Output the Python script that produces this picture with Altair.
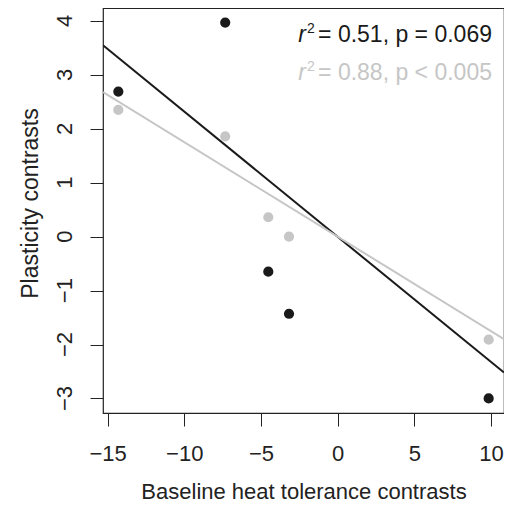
import altair as alt
import pandas as pd

# ---- data ----
x_vals = [-14.3, -7.33, -4.52, -3.17, 9.85]
y_black = [2.69, 3.97, -0.65, -1.43, -3.0]
y_grey = [2.35, 1.86, 0.36, 0.0, -1.91]

# fitted lines (endpoints at the axis limits)
line_x = [-15.3, 10.85]
black_line_y = [3.55, -2.52]
grey_line_y = [2.68, -1.90]

x_domain = [-15.3, 10.85]
y_domain = [-3.27, 4.24]
x_ticks = [-15, -10, -5, 0, 5, 10]
y_ticks = [-3, -2, -1, 0, 1, 2, 3, 4]

FONT = "Liberation Sans"
GREY = "#c6c6c6"
BLACK = "#1a1a1a"
INK = "#222222"

pts = pd.DataFrame(
    {"x": x_vals * 2, "y": y_black + y_grey,
     "group": ["black"] * 5 + ["grey"] * 5}
)
lines = pd.DataFrame(
    {"x": line_x * 2, "y": black_line_y + grey_line_y,
     "group": ["black"] * 2 + ["grey"] * 2}
)
ylabels = pd.DataFrame(
    {"y": y_ticks, "label": [str(v).replace("-", "\u2212") for v in y_ticks]}
)

xscale = alt.Scale(domain=x_domain, nice=False, zero=False)
yscale = alt.Scale(domain=y_domain, nice=False, zero=False)
color_scale = alt.Scale(domain=["black", "grey"], range=[BLACK, GREY])

xaxis = alt.Axis(
    values=x_ticks, format="d", title="Baseline heat tolerance contrasts", grid=False,
    domain=False, ticks=True, tickSize=13, tickColor=INK, tickWidth=1,
    labelFont=FONT, labelFontSize=22, labelColor=INK,
    labelBaseline="alphabetic", labelPadding=34, labelFlush=False,
    titleFont=FONT, titleFontSize=22, titleFontWeight="normal", titleColor=INK,
    titleBaseline="alphabetic", titleY=85,
)
yaxis = alt.Axis(
    values=y_ticks, title="Plasticity contrasts", grid=False,
    domain=False, ticks=True, tickSize=13, tickColor=INK, tickWidth=1,
    labels=False,
    titleFont=FONT, titleFontSize=23, titleFontWeight="normal", titleColor=INK,
    titleAngle=270, titleAlign="center", titleBaseline="alphabetic",
    titleX=-66, titleY=195,
)

line_layer = alt.Chart(lines).mark_line(strokeWidth=2, clip=True).encode(
    x=alt.X("x:Q", scale=xscale, axis=xaxis),
    y=alt.Y("y:Q", scale=yscale, axis=yaxis),
    color=alt.Color("group:N", scale=color_scale, legend=None),
    detail="group:N",
    order=alt.Order("x:Q"),
)

point_layer = alt.Chart(pts).mark_circle(size=104, opacity=1).encode(
    x=alt.X("x:Q", scale=xscale, axis=xaxis),
    y=alt.Y("y:Q", scale=yscale, axis=yaxis),
    color=alt.Color("group:N", scale=color_scale, legend=None),
)

ylabel_layer = alt.Chart(ylabels).mark_text(
    font=FONT, fontSize=22, angle=270, align="center", baseline="alphabetic",
    color=INK,
).encode(
    y=alt.Y("y:Q", scale=yscale, axis=yaxis),
    x=alt.value(-31),
    text="label:N",
)

ann = pd.DataFrame({"row": [0]})


def txt(text, x, y, color, size=23, align="left", style="normal"):
    return alt.Chart(ann).mark_text(
        text=text, font=FONT, fontSize=size, align=align, baseline="alphabetic",
        color=color, fontStyle=style,
    ).encode(x=alt.value(x), y=alt.value(y))


annotations = [
    txt("r", 203, 34, BLACK, align="right", style="italic"),
    txt("2", 204, 25, BLACK, size=14),
    txt("= 0.51, p = 0.069", 389, 34, BLACK, align="right"),
    txt("r", 203, 72, GREY, align="right", style="italic"),
    txt("2", 204, 63, GREY, size=14),
    txt("= 0.88, p < 0.005", 389, 72, GREY, align="right"),
]

chart = alt.layer(line_layer, point_layer, ylabel_layer, *annotations).properties(
    width=401, height=405,
    autosize=alt.AutoSizeParams(type="none"),
    padding={"left": 95, "top": 0, "right": 0, "bottom": 89},
).configure_view(stroke=INK, strokeWidth=1.2)

chart.save("out.html", embed_options={"renderer": "svg", "actions": False})
